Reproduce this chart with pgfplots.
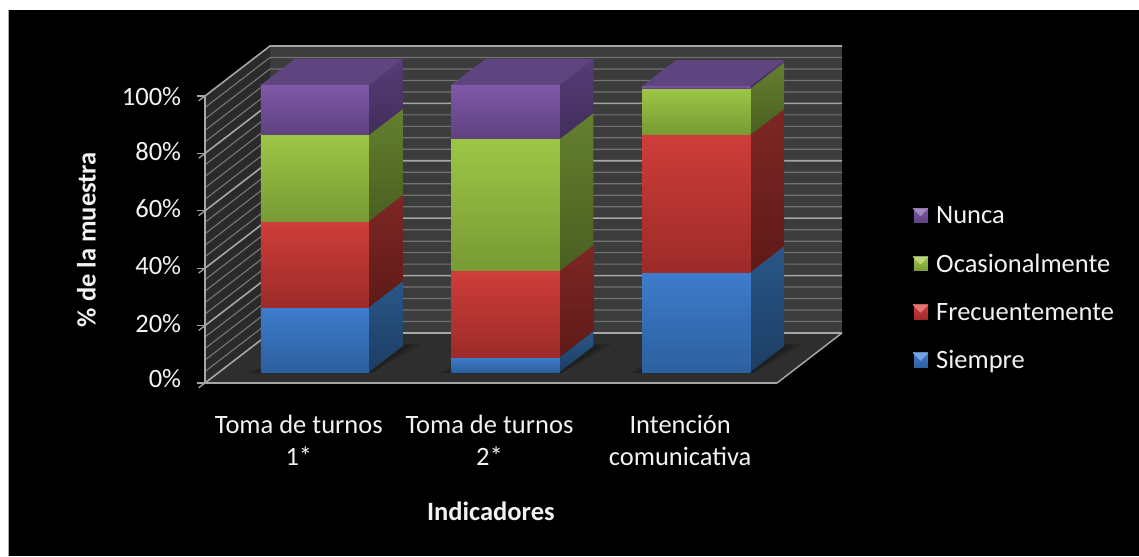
\documentclass[border=0pt]{standalone}
\usepackage{fontspec}
\setmainfont{Carlito}
\usepackage{pgfplots}
\pgfplotsset{compat=1.18}

% Series colours: front face top/bottom, side face top/bottom
\definecolor{bluA}{HTML}{3E7CCC}\definecolor{bluB}{HTML}{2C609F}
\definecolor{bluC}{HTML}{2A5788}\definecolor{bluD}{HTML}{1C3D63}
\definecolor{redA}{HTML}{CF3D3A}\definecolor{redB}{HTML}{9C2B29}
\definecolor{redC}{HTML}{7E2724}\definecolor{redD}{HTML}{5E1A18}
\definecolor{grnA}{HTML}{9DC646}\definecolor{grnB}{HTML}{789A34}
\definecolor{grnC}{HTML}{64802F}\definecolor{grnD}{HTML}{4A5F20}
\definecolor{purA}{HTML}{7F58A8}\definecolor{purB}{HTML}{5E4180}
\definecolor{purC}{HTML}{563D76}\definecolor{purD}{HTML}{422D5C}
\definecolor{purT}{HTML}{5F4580}
\definecolor{wallback}{HTML}{3C3C3C}
\definecolor{wallleft}{HTML}{2A2A2A}
\definecolor{floorc}{HTML}{2E2E2E}
\definecolor{gridminor}{HTML}{737373}
\definecolor{gridmajor}{HTML}{A6A6A6}
\definecolor{labeltext}{HTML}{F2F2F2}

% One stacked segment: x0, x1, lower and upper percentage, colour prefix
\newcommand{\seg}[5]{%
  \addplot3[forget plot, draw=none, top color=#5C, bottom color=#5D]
    coordinates {(#2,0.22,#3) (#2,0.74,#3) (#2,0.74,#4) (#2,0.22,#4)} --cycle;
  \addplot3[forget plot, draw=none, top color=#5A, bottom color=#5B]
    coordinates {(#1,0.22,#3) (#2,0.22,#3) (#2,0.22,#4) (#1,0.22,#4)} --cycle;
}
% Lid of a column at its upper percentage
\newcommand{\lid}[3]{%
  \addplot3[forget plot, draw=none, fill=purT]
    coordinates {(#1,0.22,#3) (#2,0.22,#3) (#2,0.74,#3) (#1,0.74,#3)} --cycle;
}
% Soft shadow of a column on the floor
\newcommand{\shadow}[2]{%
  \addplot3[forget plot, draw=none, fill=black, opacity=.16]
    coordinates {(#1-0.03,0.20,0) (#2+0.02,0.20,0) (#2+0.04,0.76,0) (#1+0.05,0.76,0)} --cycle;
  \addplot3[forget plot, draw=none, fill=black, opacity=.16]
    coordinates {(#1-0.06,0.20,0) (#2+0.02,0.20,0) (#2+0.08,0.78,0) (#1+0.05,0.78,0)} --cycle;
}
% Swatch of a legend entry, with a lighter wedge along its top edge
\newcommand{\swatch}[3]{%
  \addlegendimage{legend image code/.code={
    \fill[top color=#1, bottom color=#2] (0pt,-7.5pt) rectangle (15pt,7.5pt);
    \fill[#3] (0pt,7.5pt) -- (15pt,7.5pt) -- (7.5pt,0pt) -- cycle;}}
}

\begin{document}
\begin{tikzpicture}[x=1pt,y=1pt]
\fill[white] (0,0) rectangle (1139,556);
\fill[black] (8,0) rectangle (1139,546);
\draw[gray!70, line width=.8pt] (8,0) -- (8,546);
\begin{axis}[
  at={(205pt,173pt)}, anchor=origin,
  x={(190.67pt,0pt)}, y={(65pt,50pt)}, z={(0pt,2.87pt)},
  xmin=0, xmax=3, ymin=0, ymax=1, zmin=0, zmax=100,
  axis lines=left, axis on top,
  axis line style={-, draw=gridmajor, line width=1.5pt},
  clip=false,
  tick align=outside, major tick length=8pt,
  ytick=\empty,
  xtick={0.5,1.5,2.5},
  xticklabels={{Toma de turnos\\1*},{Toma de turnos\\2*},{Intención\\comunicativa}},
  ztick={0,20,40,60,80,100},
  zticklabels={0\%,20\%,40\%,60\%,80\%,100\%},
  xtick style={draw=none},
  ztick style={draw=gridmajor, line width=1.3pt},
  every tick label/.append style={text=labeltext, font=\fontsize{26.5}{32}\selectfont},
  xticklabel style={align=center, xshift=19pt, yshift=-24pt},
  zticklabel style={xshift=-14pt, yshift=16pt},
  xlabel={\bfseries Indicadores},
  zlabel={\bfseries \% de la muestra},
  every axis label/.append style={text=labeltext, font=\fontsize{26.5}{30}\selectfont},
  xlabel style={xshift=58pt, yshift=-10pt},
  zlabel style={xshift=32pt, yshift=24pt},
  legend style={at={(1.07,0.5)}, anchor=west, draw=none, fill=none,
    xshift=23pt, yshift=-74pt,
    text=labeltext, font=\fontsize{26.5}{30}\selectfont, row sep=25pt,
    /tikz/every odd column/.append style={column sep=6pt}},
  legend cell align=left,
]
% Walls and floor
\addplot3[forget plot, draw=none, fill=wallback]
  coordinates {(0,1,0) (3,1,0) (3,1,100) (0,1,100)} --cycle;
\addplot3[forget plot, draw=none, fill=wallleft]
  coordinates {(0,0,0) (0,1,0) (0,1,100) (0,0,100)} --cycle;
\addplot3[forget plot, draw=none, fill=floorc]
  coordinates {(0,0,0) (3,0,0) (3,1,0) (0,1,0)} --cycle;
% Minor and major gridlines on both walls
\pgfplotsinvokeforeach{4,8,12,16,24,28,32,36,44,48,52,56,64,68,72,76,84,88,92,96}{
  \addplot3[forget plot, draw=gridminor, line width=1.2pt]
    coordinates {(0,0,#1) (0,1,#1) (3,1,#1)};
}
\pgfplotsinvokeforeach{0,20,40,60,80,100}{
  \addplot3[forget plot, draw=gridmajor, line width=1.6pt]
    coordinates {(0,0,#1) (0,1,#1) (3,1,#1)};
}
\shadow{0.218}{0.785}
\shadow{1.218}{1.785}
\shadow{2.218}{2.785}
% Toma de turnos 1*
\seg{0.218}{0.785}{0}{22.6}{blu}
\seg{0.218}{0.785}{22.6}{52.6}{red}
\seg{0.218}{0.785}{52.6}{82.6}{grn}
\seg{0.218}{0.785}{82.6}{100}{pur}
\lid{0.218}{0.785}{100}
% Toma de turnos 2*
\seg{1.218}{1.785}{0}{5.2}{blu}
\seg{1.218}{1.785}{5.2}{35.2}{red}
\seg{1.218}{1.785}{35.2}{81.2}{grn}
\seg{1.218}{1.785}{81.2}{100}{pur}
\lid{1.218}{1.785}{100}
% Intención comunicativa
\seg{2.218}{2.785}{0}{34.8}{blu}
\seg{2.218}{2.785}{34.8}{82.6}{red}
\seg{2.218}{2.785}{82.6}{98.8}{grn}
\seg{2.218}{2.785}{98.8}{99.6}{pur}
\lid{2.218}{2.785}{99.6}
% Legend entries
\swatch{purA}{purB}{purA!70!white}
\addlegendentry{Nunca}
\swatch{grnA}{grnB}{grnA!70!white}
\addlegendentry{Ocasionalmente}
\swatch{redA}{redB}{redA!70!white}
\addlegendentry{Frecuentemente}
\swatch{bluA}{bluB}{bluA!70!white}
\addlegendentry{Siempre}
\end{axis}
\path (0,0) (1139,556);
\end{tikzpicture}
\end{document}
